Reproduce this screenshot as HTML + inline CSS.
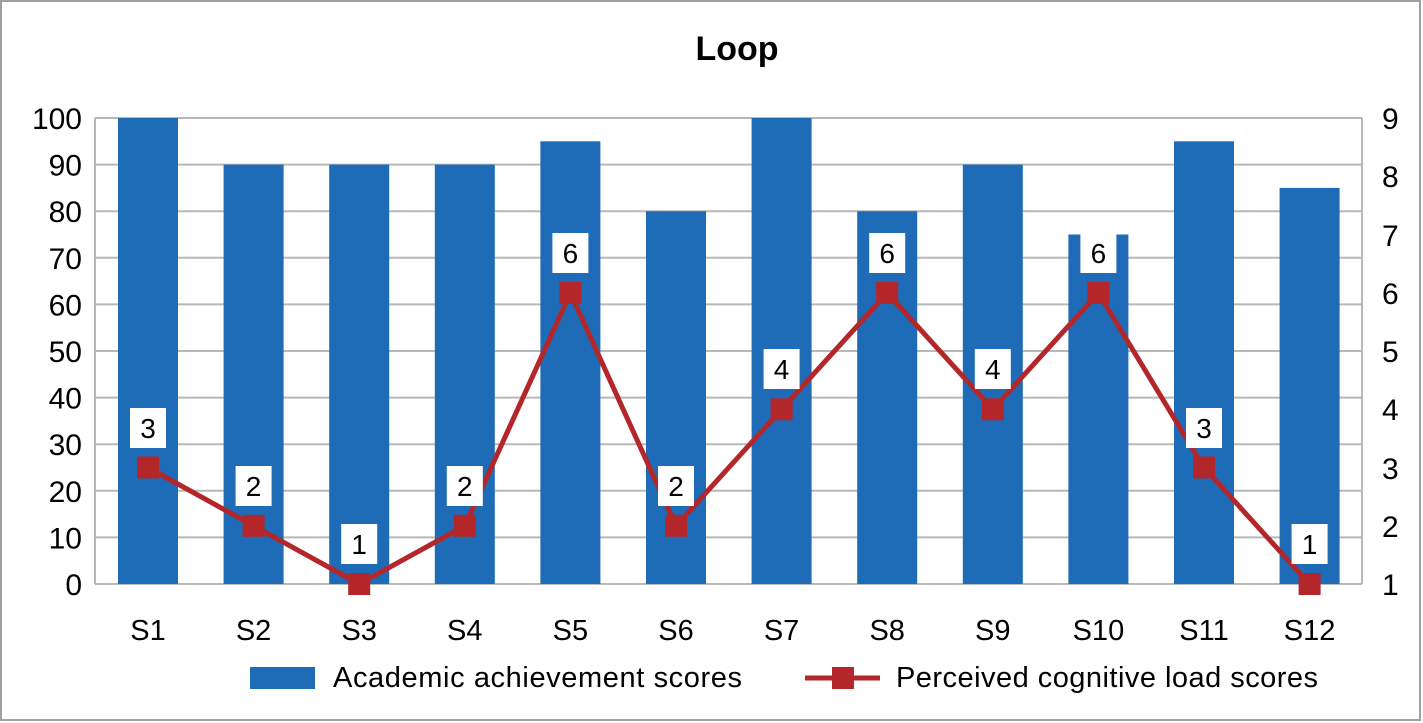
<!DOCTYPE html>
<html><head><style>body{margin:0;background:#fff}svg{display:block}text{font-family:"Liberation Sans",sans-serif}</style></head><body>
<svg width="1423" height="723" xmlns="http://www.w3.org/2000/svg">
<rect x="1" y="1" width="1419" height="719" fill="#fff" stroke="#a0a0a0" stroke-width="2"/>
<text x="737" y="60" font-size="34" font-weight="bold" text-anchor="middle">Loop</text>
<g stroke="#b8b8b8" stroke-width="2">
<line x1="95" y1="118" x2="1362" y2="118"/><line x1="95" y1="164.6" x2="1362" y2="164.6"/><line x1="95" y1="211.2" x2="1362" y2="211.2"/><line x1="95" y1="257.8" x2="1362" y2="257.8"/><line x1="95" y1="304.4" x2="1362" y2="304.4"/><line x1="95" y1="351" x2="1362" y2="351"/><line x1="95" y1="397.6" x2="1362" y2="397.6"/><line x1="95" y1="444.2" x2="1362" y2="444.2"/><line x1="95" y1="490.8" x2="1362" y2="490.8"/><line x1="95" y1="537.4" x2="1362" y2="537.4"/><line x1="95" y1="584" x2="1362" y2="584"/>
<line x1="95" y1="118" x2="95" y2="584"/><line x1="1362" y1="118" x2="1362" y2="584"/>
</g>
<g fill="#1e6bb8">
<rect x="118" y="118" width="60" height="466"/>
<rect x="223.6" y="164.6" width="60" height="419.4"/>
<rect x="329.2" y="164.6" width="60" height="419.4"/>
<rect x="434.8" y="164.6" width="60" height="419.4"/>
<rect x="540.4" y="141.3" width="60" height="442.7"/>
<rect x="646" y="211.2" width="60" height="372.8"/>
<rect x="751.6" y="118" width="60" height="466"/>
<rect x="857.2" y="211.2" width="60" height="372.8"/>
<rect x="962.8" y="164.6" width="60" height="419.4"/>
<rect x="1068.4" y="234.5" width="60" height="349.5"/>
<rect x="1174" y="141.3" width="60" height="442.7"/>
<rect x="1279.6" y="187.9" width="60" height="396.1"/>
</g>
<polyline fill="none" stroke="#b3262a" stroke-width="5" points="148,467.5 253.6,525.8 359.2,584 464.8,525.8 570.4,293 676,525.8 781.6,409.3 887.2,293 992.8,409.3 1098.4,293 1204,467.5 1309.6,584"/>
<g fill="#b3262a">
<rect x="137" y="456.5" width="22" height="22"/><rect x="242.6" y="514.8" width="22" height="22"/><rect x="348.2" y="573" width="22" height="22"/><rect x="453.8" y="514.8" width="22" height="22"/><rect x="559.4" y="282" width="22" height="22"/><rect x="665" y="514.8" width="22" height="22"/><rect x="770.6" y="398.3" width="22" height="22"/><rect x="876.2" y="282" width="22" height="22"/><rect x="981.8" y="398.3" width="22" height="22"/><rect x="1087.4" y="282" width="22" height="22"/><rect x="1193" y="456.5" width="22" height="22"/><rect x="1298.6" y="573" width="22" height="22"/>
</g>
<g fill="#fff">
<rect x="130" y="408" width="36" height="40"/><rect x="235.6" y="466" width="36" height="40"/><rect x="341.2" y="524" width="36" height="40"/><rect x="446.8" y="466" width="36" height="40"/><rect x="552.4" y="233" width="36" height="40"/><rect x="658" y="466" width="36" height="40"/><rect x="763.6" y="349" width="36" height="40"/><rect x="869.2" y="233" width="36" height="40"/><rect x="974.8" y="349" width="36" height="40"/><rect x="1080.4" y="233" width="36" height="40"/><rect x="1186" y="408" width="36" height="40"/><rect x="1291.6" y="524" width="36" height="40"/>
</g>
<g font-size="28" text-anchor="middle">
<text x="148" y="438">3</text><text x="253.6" y="496">2</text><text x="359.2" y="554">1</text><text x="464.8" y="496">2</text><text x="570.4" y="263">6</text><text x="676" y="496">2</text><text x="781.6" y="379">4</text><text x="887.2" y="263">6</text><text x="992.8" y="379">4</text><text x="1098.4" y="263">6</text><text x="1204" y="438">3</text><text x="1309.6" y="554">1</text>
</g>
<g font-size="30" text-anchor="end">
<text x="82" y="129">100</text><text x="82" y="175.6">90</text><text x="82" y="222.2">80</text><text x="82" y="268.8">70</text><text x="82" y="315.4">60</text><text x="82" y="362">50</text><text x="82" y="408.6">40</text><text x="82" y="455.2">30</text><text x="82" y="501.8">20</text><text x="82" y="548.4">10</text><text x="82" y="595">0</text>
</g>
<g font-size="30">
<text x="1382" y="129">9</text><text x="1382" y="187">8</text><text x="1382" y="246">7</text><text x="1382" y="304">6</text><text x="1382" y="362">5</text><text x="1382" y="420">4</text><text x="1382" y="479">3</text><text x="1382" y="537">2</text><text x="1382" y="595">1</text>
</g>
<g font-size="29" text-anchor="middle">
<text x="148" y="640">S1</text><text x="253.6" y="640">S2</text><text x="359.2" y="640">S3</text><text x="464.8" y="640">S4</text><text x="570.4" y="640">S5</text><text x="676" y="640">S6</text><text x="781.6" y="640">S7</text><text x="887.2" y="640">S8</text><text x="992.8" y="640">S9</text><text x="1098.4" y="640">S10</text><text x="1204" y="640">S11</text><text x="1309.6" y="640">S12</text>
</g>
<rect x="250" y="667" width="65" height="22" fill="#1e6bb8"/>
<text x="333" y="687" font-size="29" textLength="409">Academic achievement scores</text>
<line x1="805" y1="678" x2="880" y2="678" stroke="#b3262a" stroke-width="5"/>
<rect x="832" y="667" width="22" height="22" fill="#b3262a"/>
<text x="896" y="687" font-size="29" textLength="422">Perceived cognitive load scores</text>
</svg>
</body></html>
